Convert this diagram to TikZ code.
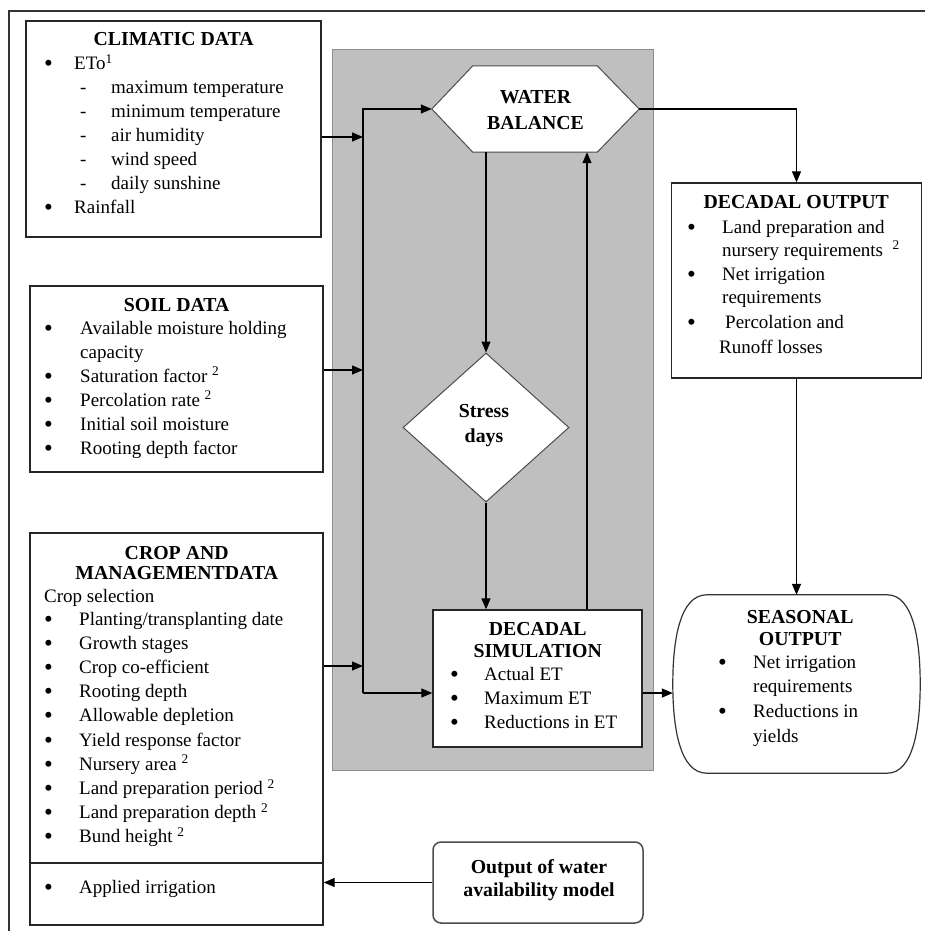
\documentclass[tikz,border=0pt]{standalone}
\usepackage{fontspec}
\setmainfont{Liberation Serif}
\usetikzlibrary{arrows.meta,calc,shapes.geometric}

\newcommand\TB[1]{\vtop{\fontsize{19}{24}\selectfont #1}}
\newcommand\TL[2]{\hbox to #1{\hfil\fontsize{19.8}{24}\selectfont\bfseries #2\hfil}}
\newcommand\bigbul{{\fontsize{25}{24}\selectfont\raisebox{-2pt}{\textbullet}}}
\newcommand\BU[3]{\hbox{\hspace*{#1}\makebox[#2][l]{\bigbul}#3}}
\newcommand\DA[3]{\hbox{\hspace*{#1}\makebox[#2][l]{-}#3}}
\newcommand\LN[2]{\hbox{\hspace*{#1}#2}}
\newcommand\supr[1]{\textsuperscript{#1}}

\begin{document}
\begin{tikzpicture}[x=1pt,y=-1pt,
  box/.style={draw=black!85,line width=1.4pt,rectangle,inner sep=0pt},
  thinshape/.style={draw=black!70,line width=1pt,fill=white},
  arr/.style={line width=1.3pt,-{Triangle[length=11pt,width=9pt]}},
  divider/.style={draw=black!85,line width=1.4pt},
  txt/.style={inner sep=0pt,anchor=base west},
  ctxt/.style={inner sep=0pt,anchor=base}]
\useasboundingbox (0,0) rectangle (925,931);
\draw[line width=1.5pt,black!80] (9,931) -- (9,11) -- (925,11);

% grey background
\node[draw=black!45,fill=black!25,line width=1pt,minimum width=321pt,minimum height=720pt,inner sep=0pt] (grey) at (492.5,410) {};

% boxes
\node[box,minimum width=295pt,minimum height=216pt] (clim) at (173.5,129) {};
\node[box,minimum width=293pt,minimum height=186pt] (soil) at (176.5,379) {};
\node[box,minimum width=293pt,minimum height=392pt] (crop) at (176.5,729) {};
\draw[divider] (crop.west |- 0,863) -- (crop.east |- 0,863);

\node[inner sep=0pt,minimum width=207pt,minimum height=86pt] (wb) at (535.5,109) {};
\draw[thinshape] (wb.west) -- ($(wb.north west)+(41,0)$) -- ($(wb.north east)+(-42,0)$) -- (wb.east) -- ($(wb.south east)+(-42,0)$) -- ($(wb.south west)+(41,0)$) -- cycle;

\node[diamond,thinshape,minimum width=166pt,minimum height=149pt,inner sep=0pt] (sd) at (486,427.5) {};

\node[box,fill=white,minimum width=209pt,minimum height=137pt] (sim) at (537.5,678.5) {};
\node[box,minimum width=250pt,minimum height=195pt] (dout) at (796.5,280.5) {};

\node[inner sep=0pt,minimum width=247pt,minimum height=178pt] (seas) at (796.5,684) {};
\draw[line width=1.2pt,black!80] ($(seas.north west)+(34,0)$) -- ($(seas.north east)+(-33,0)$)
  .. controls ($(seas.north east)+(-7,0)$) and ($(seas.east)+(0,-44)$) .. (seas.east)
  .. controls ($(seas.east)+(0,44)$) and ($(seas.south east)+(-7,0)$) .. ($(seas.south east)+(-33,0)$)
  -- ($(seas.south west)+(34,0)$)
  .. controls ($(seas.south west)+(7,0)$) and ($(seas.west)+(0,44)$) .. (seas.west)
  .. controls ($(seas.west)+(0,-44)$) and ($(seas.north west)+(7,0)$) .. ($(seas.north west)+(34,0)$) -- cycle;

\node[draw=black!70,line width=1.5pt,rounded corners=8pt,minimum width=210pt,minimum height=81pt,inner sep=0pt] (avail) at (538,882.5) {};

% connectors
\coordinate (bt) at (363,109);
\coordinate (bb) at (363,693);
\coordinate (c1) at (363,137);
\coordinate (c2) at (363,370);
\coordinate (c3) at (363,666);
\coordinate (c4) at (587,400);
\draw[arr] (c1 -| clim.east) -- (c1);
\draw[arr] (c2 -| soil.east) -- (c2);
\draw[arr] (c3 -| crop.east) -- (c3);
\draw[arr] (bb) -- (bt) -- (wb.west);
\draw[arr] (bb) -- (bb -| sim.west);
\draw[arr] (sd.north |- wb.south) -- (sd.north);
\draw[arr] (sd.south) -- (sd.south |- sim.north);
\draw[arr] (c4 |- sim.north) -- (c4 |- wb.south);
\draw[arr] (wb.east) -| (dout.north);
\draw[arr] (dout.south) -- (seas.north);
\draw[arr] (bb -| sim.east) -- (bb -| seas.west);
\draw[arr] (avail.west) -- (avail.west -| crop.east);

% texts
\node[txt] (climT) at (26,46) {\TB{%
  \TL{295pt}{CLIMATIC DATA}
  \BU{18pt}{30pt}{ETo\supr{1}}
  \DA{54pt}{31pt}{maximum temperature}
  \DA{54pt}{31pt}{minimum temperature}
  \DA{54pt}{31pt}{air humidity}
  \DA{54pt}{31pt}{wind speed}
  \DA{54pt}{31pt}{daily sunshine}
  \BU{18pt}{30pt}{Rainfall}}};

\node[txt] (soilT) at (30,311) {\TB{%
  \TL{293pt}{SOIL DATA}
  \baselineskip=23pt
  \BU{14pt}{36pt}{Available moisture holding}
  \baselineskip=24pt
  \LN{50pt}{capacity}
  \BU{14pt}{36pt}{Saturation factor \supr{2}}
  \BU{14pt}{36pt}{Percolation rate \supr{2}}
  \BU{14pt}{36pt}{Initial soil moisture}
  \BU{14pt}{36pt}{Rooting depth factor}}};

\node[txt] (cropT) at (30,559) {\TB{%
  \TL{293pt}{CROP AND}
  \baselineskip=20pt
  \TL{293pt}{MANAGEMENTDATA}
  \baselineskip=23pt
  \LN{14pt}{Crop selection}
  \BU{14pt}{35pt}{Planting/transplanting date}
  \baselineskip=24.2pt
  \BU{14pt}{35pt}{Growth stages}
  \BU{14pt}{35pt}{Crop co-efficient}
  \BU{14pt}{35pt}{Rooting depth}
  \BU{14pt}{35pt}{Allowable depletion}
  \BU{14pt}{35pt}{Yield response factor}
  \BU{14pt}{35pt}{Nursery area \supr{2}}
  \BU{14pt}{35pt}{Land preparation period \supr{2}}
  \BU{14pt}{35pt}{Land preparation depth \supr{2}}
  \BU{14pt}{35pt}{Bund height \supr{2}}}};

\node[txt] (applT) at (30,893) {\TB{\BU{14pt}{35pt}{Applied irrigation}}};

\node[txt] (doutT) at (671,208) {\TB{%
  \TL{250pt}{DECADAL OUTPUT}
  \baselineskip=25pt
  \BU{16pt}{35pt}{Land preparation and}
  \baselineskip=23pt
  \LN{51pt}{nursery requirements \ \supr{2}}
  \baselineskip=24pt
  \BU{16pt}{35pt}{Net irrigation}
  \baselineskip=23pt
  \LN{51pt}{requirements}
  \baselineskip=25pt
  \BU{16pt}{38pt}{Percolation and}
  \LN{48pt}{Runoff losses}}};

\node[txt] (simT) at (433,635) {\TB{%
  \TL{209pt}{DECADAL}
  \baselineskip=22pt
  \TL{209pt}{SIMULATION}
  \baselineskip=23.5pt
  \BU{17pt}{34pt}{Actual ET}
  \baselineskip=24pt
  \BU{17pt}{34pt}{Maximum ET}
  \BU{17pt}{34pt}{Reductions in ET}}};

\node[txt] (seasT) at (673,623) {\TB{%
  \TL{254pt}{SEASONAL}
  \baselineskip=22pt
  \TL{254pt}{OUTPUT}
  \baselineskip=23pt
  \BU{45pt}{35pt}{Net irrigation}
  \baselineskip=24pt
  \LN{80pt}{requirements}
  \baselineskip=25pt
  \BU{45pt}{35pt}{Reductions in}
  \LN{80pt}{yields}}};

\node[ctxt] (wbT) at (535.5,103) {\TB{\TL{150pt}{WATER}\baselineskip=26pt\TL{150pt}{BALANCE}}};
\node[ctxt] (sdT) at (484,417) {\TB{\TL{100pt}{Stress}\baselineskip=25pt\TL{100pt}{days}}};
\node[ctxt] (availT) at (539,873) {\TB{\TL{200pt}{Output of water}\baselineskip=23pt\TL{200pt}{availability model}}};
\end{tikzpicture}
\end{document}
